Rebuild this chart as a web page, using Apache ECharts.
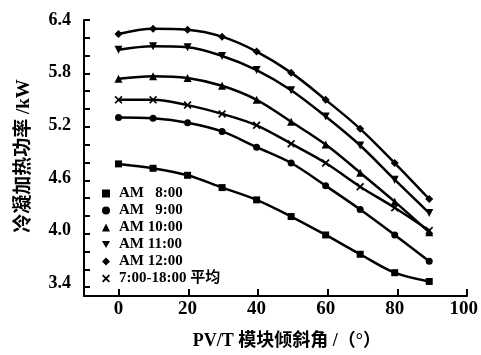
<!DOCTYPE html>
<html><head><meta charset="utf-8">
<script src="https://cdn.jsdelivr.net/npm/echarts@6/dist/echarts.min.js"></script>
<style>html,body{margin:0;padding:0;background:#fff}
#wrap{position:relative;width:481px;height:355px;background:#fff;isolation:isolate}
#axes,#c{position:absolute;left:0;top:0;width:481px;height:355px}
#c{mix-blend-mode:multiply}</style>
</head><body><div id="wrap"><div id="axes"></div><div id="c"></div></div>
<script>
const xValues = [0,10,20,30,40,50,60,70,80,90];
const am8  = [4.76,4.71,4.63,4.49,4.35,4.16,3.95,3.73,3.52,3.42];
const am9  = [5.29,5.28,5.23,5.13,4.95,4.77,4.51,4.24,3.95,3.65];
const am10 = [5.73,5.76,5.74,5.65,5.49,5.24,4.98,4.66,4.33,3.98];
const am11 = [6.06,6.10,6.09,5.99,5.83,5.60,5.30,4.97,4.58,4.20];
const am12 = [6.24,6.30,6.29,6.21,6.04,5.80,5.49,5.16,4.77,4.36];
const avgAll = [5.49,5.49,5.43,5.33,5.20,4.99,4.77,4.50,4.26,4.00];
const seriesNames = ['AM \u20078:00','AM \u20079:00','AM 10:00','AM 11:00','AM 12:00','7:00-18:00 平均'];
const xTicks = [0,20,40,60,80,100];
const yLabels = [3.4,4.0,4.6,5.2,5.8,6.4];
const yTicks = [3.4,3.6,3.8,4.0,4.2,4.4,4.6,4.8,5.0,5.2,5.4,5.6,5.8,6.0,6.2,6.4];

const downTri = 'path://M0,0 L10,0 L5,9 Z';
const cross = 'path://M0,1.5 L1.5,0 L5,3.5 L8.5,0 L10,1.5 L6.5,5 L10,8.5 L8.5,10 L5,6.5 L1.5,10 L0,8.5 L3.5,5 Z';
const symbols = ['rect','circle','triangle',downTri,'diamond',cross];
const sizes = [7,7,8,8,8,8];
const allData = [am8,am9,am10,am11,am12,avgAll];
const FONT = '"Liberation Serif","Noto Sans CJK SC",serif';
const GRID = {left:84,right:14,top:20,bottom:59};

// layer 1: axis lines and ticks
echarts.init(document.getElementById('axes')).setOption({
  backgroundColor:'#fff', animation:false,
  grid:GRID,
  xAxis:{type:'value', min:-10, max:100,
    axisLine:{show:true, onZero:false, lineStyle:{color:'#000', width:2}},
    axisTick:{show:true, inside:true, length:7, customValues:xTicks, lineStyle:{color:'#000', width:2}},
    axisLabel:{show:false, customValues:xTicks}, splitLine:{show:false}},
  yAxis:{type:'value', min:3.3, max:6.4,
    axisLine:{show:true, onZero:false, lineStyle:{color:'#000', width:2}},
    axisTick:{show:true, inside:true, length:6, customValues:yTicks, lineStyle:{color:'#000', width:2}},
    axisLabel:{show:false, customValues:yLabels}, splitLine:{show:false}}
});

// layer 2: data, labels, names, legend
echarts.init(document.getElementById('c')).setOption({
  backgroundColor:'transparent',
  animation:false,
  grid:GRID,
  legend:{
    orient:'vertical', left:102, top:186, itemWidth:8, itemHeight:8, itemGap:2, padding:0,
    data: seriesNames.map((n,i)=>({name:n, icon:symbols[i]})),
    itemStyle:{color:'#000', borderWidth:0},
    textStyle:{fontFamily:FONT, fontWeight:'bold', fontSize:15, color:'#000', lineHeight:15, padding:[0,0,0,4]}
  },
  xAxis:{
    type:'value', min:-10, max:100,
    axisLine:{show:false, onZero:false}, axisTick:{show:false},
    axisLabel:{customValues:xTicks, fontFamily:FONT, fontWeight:'bold', fontSize:19, color:'#000', margin:8},
    splitLine:{show:false},
    name:'PV/T 模块倾斜角 /（°）', nameLocation:'middle', nameGap:40,
    nameTextStyle:{fontFamily:FONT, fontWeight:'bold', fontSize:18, color:'#000', padding:[0,0,0,26]}
  },
  yAxis:{
    type:'value', min:3.3, max:6.4,
    axisLine:{show:false, onZero:false}, axisTick:{show:false},
    axisLabel:{customValues:yLabels, fontFamily:FONT, fontWeight:'bold', fontSize:18, color:'#000', margin:13,
      formatter:v=>v.toFixed(1)},
    splitLine:{show:false},
    name:'冷凝加热功率 /kW', nameLocation:'middle', nameGap:50, nameRotate:90,
    nameTextStyle:{fontFamily:FONT, fontWeight:'bold', fontSize:19, color:'#000'}
  },
  series: allData.map((d,i)=>({
    name:seriesNames[i], type:'line', smooth:0.35,
    data: xValues.map((x,j)=>[x,d[j]]),
    symbol:symbols[i], symbolSize:sizes[i], showSymbol:true,
    lineStyle:{color:'#000', width:2.5},
    itemStyle:{color:'#000', borderWidth:0}
  }))
});
</script></body></html>
